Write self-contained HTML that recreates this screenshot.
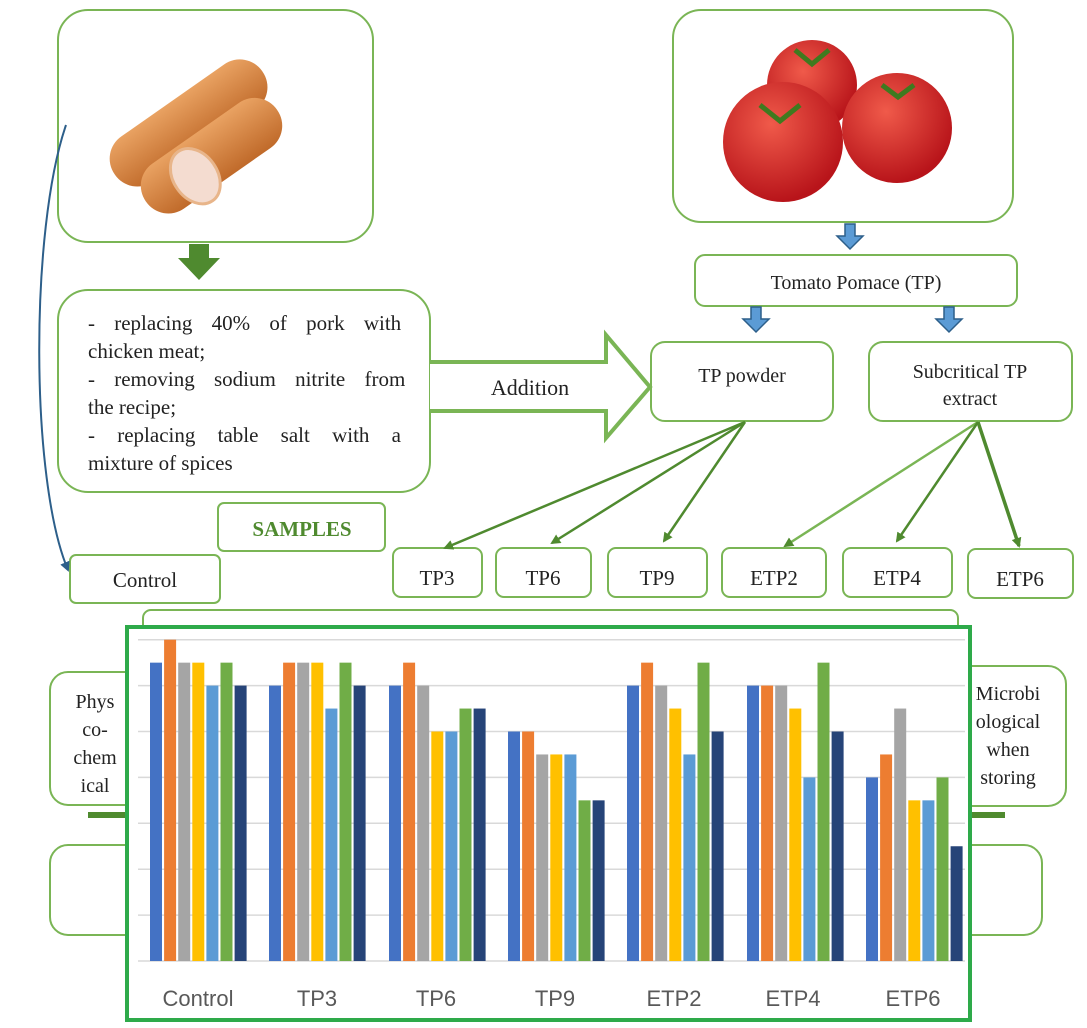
<!DOCTYPE html>
<html><head><meta charset="utf-8"><style>
body{margin:0;background:#fff;width:1087px;height:1028px;overflow:hidden}
svg{display:block}
text{font-family:"Liberation Serif",serif;fill:#222}
</style></head><body>
<svg id="s" width="1087" height="1028" viewBox="0 0 1087 1028" xmlns="http://www.w3.org/2000/svg">
<defs>
<marker id="ah" markerWidth="10" markerHeight="10" refX="8" refY="5" orient="auto" markerUnits="userSpaceOnUse"><path d="M0,0 L10,5 L0,10 Z" fill="#4f8a2f"/></marker>
<marker id="bh" markerWidth="10" markerHeight="10" refX="8" refY="5" orient="auto" markerUnits="userSpaceOnUse"><path d="M0,0 L10,5 L0,10 Z" fill="#2d5f8a"/></marker>
<radialGradient id="tom" cx="40%" cy="35%" r="65%"><stop offset="0" stop-color="#f05a4a"/><stop offset="1" stop-color="#b8141a"/></radialGradient>
<linearGradient id="sau" x1="0" y1="0" x2="0" y2="1"><stop offset="0" stop-color="#e9a262"/><stop offset="1" stop-color="#c06a2a"/></linearGradient>
</defs>
<g fill="none" stroke="#7ab555" stroke-width="2">
<rect x="58" y="10" width="315" height="232" rx="30" fill="#fff"/>
<rect x="673" y="10" width="340" height="212" rx="28" fill="#fff"/>
<rect x="695" y="255" width="322" height="51" rx="10" fill="#fff"/>
<rect x="58" y="290" width="372" height="202" rx="30" fill="#fff"/>
<rect x="651" y="342" width="182" height="79" rx="14" fill="#fff"/>
<rect x="869" y="342" width="203" height="79" rx="14" fill="#fff"/>
<rect x="218" y="503" width="167" height="48" rx="6" fill="#fff"/>
<rect x="70" y="555" width="150" height="48" rx="6" fill="#fff"/>
<rect x="393" y="548" width="89" height="49" rx="8" fill="#fff"/>
<rect x="496" y="548" width="95" height="49" rx="8" fill="#fff"/>
<rect x="608" y="548" width="99" height="49" rx="8" fill="#fff"/>
<rect x="722" y="548" width="104" height="49" rx="8" fill="#fff"/>
<rect x="843" y="548" width="109" height="49" rx="8" fill="#fff"/>
<rect x="968" y="549" width="105" height="49" rx="8" fill="#fff"/>
<rect x="143" y="610" width="815" height="30" rx="8" fill="#fff"/>
<rect x="50" y="672" width="100" height="133" rx="18" fill="#fff"/>
<rect x="940" y="666" width="126" height="140" rx="18" fill="#fff"/>
<rect x="50" y="845" width="100" height="90" rx="18" fill="#fff"/>
<rect x="940" y="845" width="102" height="90" rx="18" fill="#fff"/>
</g>
<rect x="88" y="812" width="50" height="6" fill="#4f8a2f"/>
<rect x="960" y="812" width="45" height="6" fill="#4f8a2f"/>
<!-- sausage -->
<g transform="rotate(-35 190 125)">
<rect x="100" y="95" width="180" height="55" rx="27" fill="url(#sau)"/>
<rect x="110" y="135" width="160" height="55" rx="27" fill="url(#sau)"/>
<ellipse cx="165" cy="170" rx="22" ry="30" fill="#f4dcd0" stroke="#e8b58a" stroke-width="3"/>
</g>
<!-- tomatoes -->
<circle cx="812" cy="85" r="45" fill="url(#tom)"/>
<circle cx="897" cy="128" r="55" fill="url(#tom)"/>
<circle cx="783" cy="142" r="60" fill="url(#tom)"/>
<path d="M795,50 l17,14 l17,-14 M882,85 l16,12 l16,-12 M760,105 l20,16 l20,-16" stroke="#3f7a1f" stroke-width="5" fill="none"/>
<!-- blue arrows -->
<g fill="#5b9bd5" stroke="#2d5f8a" stroke-width="1.5">
<path d="M845,224 h10 v12 h8 l-13,13 l-13,-13 h8 z"/>
<path d="M751,307 h10 v12 h8 l-13,13 l-13,-13 h8 z"/>
<path d="M944,307 h10 v12 h8 l-13,13 l-13,-13 h8 z"/>
</g>
<!-- green down arrow -->
<path d="M189,244 h20 v14 h11 l-21,22 l-21,-22 h11 z" fill="#4f8a2f"/>
<!-- addition arrow -->
<path d="M430,362 H606 V335 L650,387 L606,438 V411 H430" fill="#fff" stroke="#7ab555" stroke-width="4"/>
<text x="530" y="395" font-size="22" text-anchor="middle">Addition</text>
<!-- blue curve -->
<path d="M66,125 C30,230 30,480 68,570" fill="none" stroke="#2d5f8a" stroke-width="2" marker-end="url(#bh)"/>
<!-- green connectors -->
<g stroke="#4f8a2f" stroke-width="2.5" fill="none" marker-end="url(#ah)">
<line x1="745" y1="422" x2="445" y2="548"/>
<line x1="745" y1="422" x2="552" y2="543"/>
<line x1="745" y1="422" x2="664" y2="541"/>
<line x1="978" y1="422" x2="785" y2="546" stroke="#7ab555"/>
<line x1="978" y1="422" x2="897" y2="541"/>
<line x1="978" y1="422" x2="1019" y2="546" stroke-width="3.5"/>
</g>
<!-- text -->
<text x="856" y="289" font-size="20" text-anchor="middle">Tomato Pomace (TP)</text>
<text x="742" y="382" font-size="20" text-anchor="middle">TP powder</text>
<text x="970" y="378" font-size="20" text-anchor="middle">Subcritical TP</text>
<text x="970" y="405" font-size="20" text-anchor="middle">extract</text>
<g font-size="21">
<text x="88" y="330" word-spacing="14">- replacing 40% of pork with</text>
<text x="88" y="358">chicken meat;</text>
<text x="88" y="386" word-spacing="14">- removing sodium nitrite from</text>
<text x="88" y="414">the recipe;</text>
<text x="88" y="442" word-spacing="17">- replacing table salt with a</text>
<text x="88" y="470">mixture of spices</text>
</g>
<text x="302" y="536" font-size="21" font-weight="bold" text-anchor="middle" style="fill:#4f8a2f">SAMPLES</text>
<g font-size="21" text-anchor="middle">
<text x="145" y="587">Control</text>
<text x="437" y="585">TP3</text>
<text x="543" y="585">TP6</text>
<text x="657" y="585">TP9</text>
<text x="774" y="585">ETP2</text>
<text x="897" y="585">ETP4</text>
<text x="1020" y="586">ETP6</text>
</g>
<g font-size="20" text-anchor="middle">
<text x="95" y="708">Phys</text><text x="95" y="736">co-</text><text x="95" y="764">chem</text><text x="95" y="792">ical</text>
<text x="1008" y="700">Microbi</text><text x="1008" y="728">ological</text><text x="1008" y="756">when</text><text x="1008" y="784">storing</text>
</g>
<!-- chart -->
<rect x="127" y="627" width="843" height="393" fill="#fff" stroke="#2eaa4a" stroke-width="4"/>
<g id="grid" stroke="#d9d9d9" stroke-width="1.5"></g>
<g id="bars"></g>
<g font-size="22" text-anchor="middle">
<text x="198" y="1006" style="fill:#595959;font-family:'Liberation Sans',sans-serif">Control</text>
<text x="317" y="1006" style="fill:#595959;font-family:'Liberation Sans',sans-serif">TP3</text>
<text x="436" y="1006" style="fill:#595959;font-family:'Liberation Sans',sans-serif">TP6</text>
<text x="555" y="1006" style="fill:#595959;font-family:'Liberation Sans',sans-serif">TP9</text>
<text x="674" y="1006" style="fill:#595959;font-family:'Liberation Sans',sans-serif">ETP2</text>
<text x="793" y="1006" style="fill:#595959;font-family:'Liberation Sans',sans-serif">ETP4</text>
<text x="913" y="1006" style="fill:#595959;font-family:'Liberation Sans',sans-serif">ETP6</text>
</g>
</svg>
<script>
var ns="http://www.w3.org/2000/svg";
var g=document.getElementById("grid"),b=document.getElementById("bars");
for(var i=0;i<=7;i++){var l=document.createElementNS(ns,"line");var y=961-i*45.9;l.setAttribute("x1",138);l.setAttribute("x2",965);l.setAttribute("y1",y);l.setAttribute("y2",y);g.appendChild(l);}
var cols=["#4472c4","#ed7d31","#a5a5a5","#ffc000","#5b9bd5","#70ad47","#264478"];
var d=[[6.5,7,6.5,6.5,6,6.5,6],[6,6.5,6.5,6.5,5.5,6.5,6],[6,6.5,6,5,5,5.5,5.5],[5,5,4.5,4.5,4.5,3.5,3.5],[6,6.5,6,5.5,4.5,6.5,5],[6,6,6,5.5,4,6.5,5],[4,4.5,5.5,3.5,3.5,4,2.5]];
var gx=[150,269,389,508,627,747,866];
for(var k=0;k<7;k++)for(var j=0;j<7;j++){var r=document.createElementNS(ns,"rect");var h=d[k][j]*45.9;r.setAttribute("x",gx[k]+j*14.1);r.setAttribute("y",961-h);r.setAttribute("width",12);r.setAttribute("height",h);r.setAttribute("fill",cols[j]);b.appendChild(r);}
</script>
</body></html>
